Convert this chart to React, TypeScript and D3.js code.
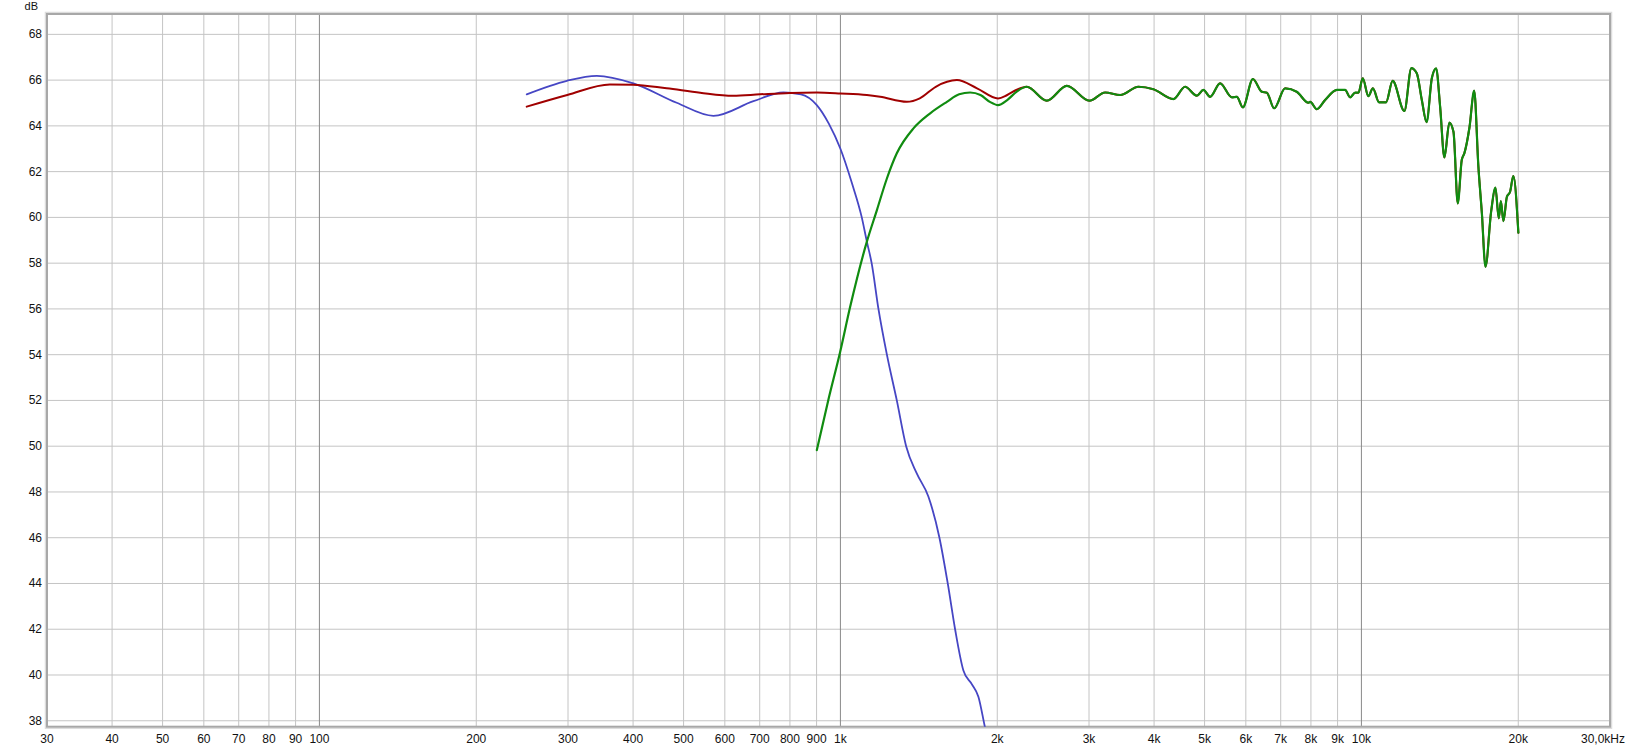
import React from "react";
import * as d3 from "d3";

const W = 1633;
const H = 749;

// Y ticks (dB)
const yTicks = [38, 40, 42, 44, 46, 48, 50, 52, 54, 56, 58, 60, 62, 64, 66, 68];
// X grid frequencies and labels
const xGrid = [30, 40, 50, 60, 70, 80, 90, 100, 200, 300, 400, 500, 600, 700, 800, 900, 1000,
  2000, 3000, 4000, 5000, 6000, 7000, 8000, 9000, 10000, 20000, 30000];
const xLabels = ["30", "40", "50", "60", "70", "80", "90", "100", "200", "300", "400", "500", "600", "700", "800", "900", "1k",
  "2k", "3k", "4k", "5k", "6k", "7k", "8k", "9k", "10k", "20k", "30,0kHz"];
const majorGrid = [100, 1000, 10000];

// Woofer (blue)
const wooferFreq = [250, 298.5, 340.7, 400.6, 485, 570.5, 680.8, 777.5, 840, 900, 950, 1000, 1052, 1099, 1124, 1148, 1183, 1228, 1283, 1337, 1402, 1475, 1549, 1607, 1660, 1722, 1787, 1840, 1895, 1950];
const wooferDb = [65.38, 65.97, 66.19, 65.86, 65.01, 64.44, 65.08, 65.46, 65.38, 64.92, 64.1, 63.0, 61.5, 60.0, 58.94, 58.0, 56.0, 54.0, 52.0, 50.0, 48.8, 47.8, 46.0, 44.0, 42.0, 40.2, 39.6, 39.05, 37.7, 36.5];

// Sum (red) low part
const sumLowFreq = [250, 299, 361, 400, 464, 538, 622, 701, 800, 901, 1000, 1124, 1192, 1341, 1420, 1524, 1673, 1829, 2007, 2090, 2180];
const sumLowDb = [64.84, 65.35, 65.81, 65.8, 65.64, 65.45, 65.32, 65.38, 65.44, 65.46, 65.42, 65.35, 65.27, 65.05, 65.2, 65.71, 66.0, 65.64, 65.2, 65.35, 65.58];

// Tweeter (green) low part
const tweeterLowFreq = [901, 948, 999, 1044, 1124, 1175, 1228, 1283, 1381, 1487, 1601, 1690, 1774, 1857, 1936, 2007, 2090, 2180];
const tweeterLowDb = [49.83, 52.02, 54.13, 56.09, 58.94, 60.32, 61.7, 62.8, 63.89, 64.55, 65.05, 65.38, 65.46, 65.35, 65.05, 64.91, 65.13, 65.5];

// Shared high-frequency part (sum == tweeter)
const hfFreq = [2279, 2490, 2720, 3005, 3222, 3443, 3733, 3988, 4357, 4587, 4832, 4974, 5124, 5355, 5639, 5766, 5922, 6189, 6440, 6584, 6800, 7137, 7516, 7912, 7971, 8211, 8518, 8970, 9305, 9513, 9725, 9868, 10060, 10310, 10520, 10810, 11150, 11480, 12090, 12470, 12770, 13060, 13340, 13650, 13910, 14160, 14430, 14750, 15020, 15310, 15580, 15760, 16120, 16460, 16770, 17030, 17300, 17740, 18080, 18350, 18520, 18730, 19020, 19290, 19570, 20010];
const hfDb = [65.71, 65.1, 65.75, 65.1, 65.46, 65.35, 65.71, 65.6, 65.17, 65.71, 65.32, 65.57, 65.27, 65.86, 65.25, 65.27, 64.81, 66.05, 65.49, 65.45, 64.77, 65.64, 65.49, 65.01, 65.05, 64.73, 65.13, 65.57, 65.57, 65.25, 65.45, 65.45, 66.08, 65.3, 65.64, 65.03, 65.03, 65.97, 64.65, 66.52, 66.3, 65.13, 64.16, 66.08, 66.51, 64.84, 62.62, 64.14, 63.74, 60.61, 62.51, 62.8, 63.93, 65.54, 62.21, 60.18, 57.84, 60.25, 61.3, 59.96, 60.71, 59.84, 60.9, 61.12, 61.81, 59.33];

const X0 = 47, X1 = 1610, Y0 = 14, Y1 = 726.7;

export default function App() {
  const x = d3.scaleLog().domain([30, 30000]).range([X0, X1]);
  const y = d3.scaleLinear().domain([37.74, 68.89]).range([Y1, Y0]);

  const line = d3.line<[number, number]>()
    .x(d => x(d[0]))
    .y(d => y(d[1]))
    .curve(d3.curveMonotoneX);

  const zip = (f: number[], v: number[]) => f.map((ff, i) => [ff, v[i]] as [number, number]);
  const woofer = zip(wooferFreq, wooferDb);
  const sum = zip(sumLowFreq.concat(hfFreq), sumLowDb.concat(hfDb));
  const tweeter = zip(tweeterLowFreq.concat(hfFreq), tweeterLowDb.concat(hfDb));

  const font = "'Liberation Sans', Arial, sans-serif";

  return (
    <svg width={W} height={H} style={{ position: "absolute", left: 0, top: 0, background: "#fff" }}>
      <defs>
        <clipPath id="plotClip">
          <rect x={X0} y={Y0} width={X1 - X0} height={Y1 - Y0} />
        </clipPath>
      </defs>
      <rect x={0} y={0} width={W} height={H} fill="#fff" />
      {/* grid */}
      {yTicks.map(t => (
        <line key={"gy" + t} x1={X0} x2={X1} y1={y(t)} y2={y(t)} stroke="#c4c4c4" strokeWidth={1} />
      ))}
      {xGrid.map(f => (
        <line key={"gx" + f} x1={x(f)} x2={x(f)} y1={Y0} y2={Y1}
          stroke={majorGrid.includes(f) ? "#8a8a8a" : "#c4c4c4"} strokeWidth={1} />
      ))}
      {/* frame */}
      <rect x={X0 - 1.5} y={Y0 - 1.5} width={X1 - X0 + 3} height={Y1 - Y0 + 3} fill="none" stroke="#dcdcdc" strokeWidth={1.5} />
      <rect x={X0} y={Y0} width={X1 - X0} height={Y1 - Y0} fill="none" stroke="#a8a8a8" strokeWidth={2} />
      {/* curves */}
      <g clipPath="url(#plotClip)" fill="none" strokeLinejoin="round" strokeLinecap="round">
        <path d={line(woofer) || ""} stroke="#4646c4" strokeWidth={1.8} />
        <path d={line(sum) || ""} stroke="#a00000" strokeWidth={2} />
        <path d={line(tweeter) || ""} stroke="#108c10" strokeWidth={2.2} />
      </g>
      {/* y labels */}
      <text x={38} y={10} fontFamily={font} fontSize={11} textAnchor="end" fill="#111">dB</text>
      {yTicks.map(t => (
        <text key={"ty" + t} x={42} y={y(t) + 4} fontFamily={font} fontSize={12} textAnchor="end" fill="#111">{t}</text>
      ))}
      {/* x labels */}
      {xGrid.map((f, i) => (
        i === xGrid.length - 1 ? (
          <text key={"tx" + f} x={1625} y={743} fontFamily={font} fontSize={12} textAnchor="end" fill="#111">{xLabels[i]}</text>
        ) : (
          <text key={"tx" + f} x={x(f)} y={743} fontFamily={font} fontSize={12} textAnchor="middle" fill="#111">{xLabels[i]}</text>
        )
      ))}
    </svg>
  );
}
